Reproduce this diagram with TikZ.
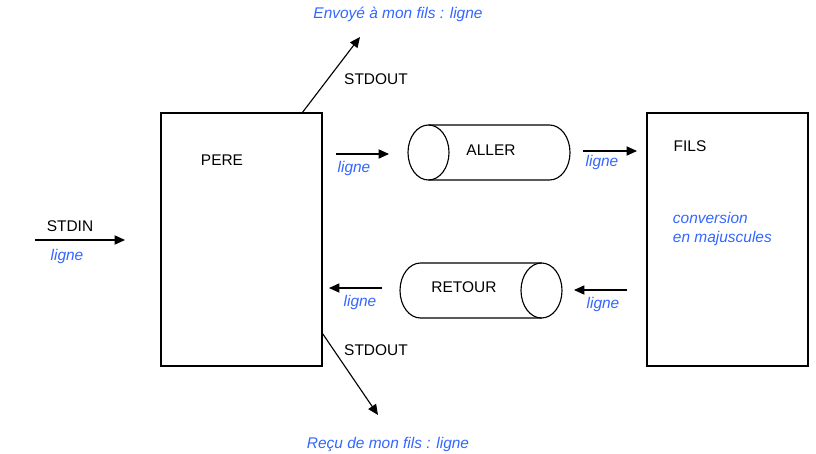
\documentclass[tikz,border=0pt]{standalone}
\usepackage{fontspec}
\setmainfont{Liberation Sans}
\usetikzlibrary{arrows.meta, positioning, calc}
\definecolor{cBlue}{HTML}{3366FF}

\begin{document}
\begin{tikzpicture}[x=0.025cm, y=-0.025cm,
  font=\fontsize{11}{14.2}\selectfont,
  proc/.style={draw, line width=0.8pt, minimum width=4.025cm, minimum height=6.325cm, inner sep=0pt},
  pipe/.style={line width=0.8pt},
  arr/.style={-{Triangle[length=2.6mm, width=2.3mm]}, line width=0.8pt},
  lbl/.style={text=cBlue, font=\fontsize{11}{14.2}\selectfont\itshape}
]
\useasboundingbox (0,0) rectangle (816,454);

% the two processes
\node[proc] (pere) at (241.5,239.5) {};
\node[proc] (fils) at (727.5,239.5) {};
\node (perelbl) at (222,160) {PERE};
\node (filslbl) at (690,146) {FILS};
\node[lbl, anchor=west, align=left] (conv) at (668,229) {conversion\\en majuscules};

% the two pipes
\coordinate (aller) at (489,152.5);
\coordinate (retour) at (481,290.5);
\draw[pipe] (aller) ++(-60.5,-27.5) -- ++(121,0)
  arc[start angle=90, end angle=-90, x radius=0.5125cm, y radius=0.6875cm] -- ++(-121,0);
\draw[pipe] (aller) ++(-60.5,0) ellipse[x radius=0.5125cm, y radius=0.6875cm];
\draw[pipe] (retour) ++(60.5,-27.5) -- ++(-121,0)
  arc[start angle=90, end angle=270, x radius=0.5125cm, y radius=0.6875cm] -- ++(121,0);
\draw[pipe] (retour) ++(60.5,0) ellipse[x radius=0.5125cm, y radius=0.6875cm];
\node (allerlbl) at (491,150) {ALLER};
\node (retourlbl) at (464,287) {RETOUR};

% horizontal arrows
\foreach \n/\a/\b/\y in {in/35/125/240, ai/336/389/154, ao/583/637/151,
                         ri/627/574/290, ro/382/329/288} {
  \coordinate (\n s) at (\a,\y);
  \coordinate (\n e) at (\b,\y);
  \draw[arr] (\n s) -- (\n e);
}
\node (stdin) at (70,226) {STDIN};
\node[lbl] (l1) at (67,256) {ligne};
\node[lbl] (l2) at (354,168) {ligne};
\node[lbl] (l3) at (602,162) {ligne};
\node[lbl] (l4) at (360,302) {ligne};
\node[lbl] (l5) at (603,304) {ligne};

% standard output of the father
\coordinate (uptip) at (360,37);
\coordinate (dntip) at (378,415);
\draw[arr] ($(pere.north west)!0.876!(pere.north east)$) -- (uptip);
\draw[arr] ($(pere.south east)+(0,-33)$) -- (dntip);
\node (out1) at (376,79) {STDOUT};
\node (out2) at (376,350) {STDOUT};
\node[lbl] (sent) at (398,14) {Envoyé à mon fils : ligne};
\node[lbl] (recv) at (388,444) {Reçu de mon fils : ligne};
\end{tikzpicture}
\end{document}
